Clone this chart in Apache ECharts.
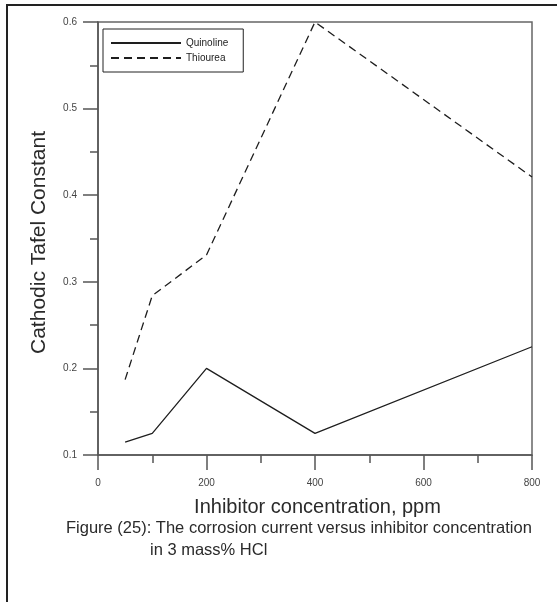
<!DOCTYPE html>
<html><head><meta charset="utf-8">
<script src="https://cdn.jsdelivr.net/npm/echarts@6/dist/echarts.min.js"></script>
<style>html,body{margin:0;padding:0;background:#fff}#c{width:557px;height:602px}</style>
</head><body><div id="c"></div>
<script>
// Data
const concentrations = [50, 100, 200, 400, 800];
const quinoline = [0.115, 0.125, 0.2, 0.125, 0.225];
const thiourea = [0.187, 0.284, 0.331, 0.6, 0.421];
const seriesNames = ['Quinoline', 'Thiourea'];
const xTickValues = [0, 200, 400, 600, 800];
const yTickValues = [0.1, 0.2, 0.3, 0.4, 0.5, 0.6];
const xTitle = 'Inhibitor concentration, ppm';
const yTitle = 'Cathodic Tafel Constant';
const captionLines = ['Figure (25): The corrosion current versus inhibitor concentration', 'in 3 mass% HCl'];

const FONT = '"Liberation Sans", Arial, sans-serif';
const AXIS = '#555';
const INK = '#1e1e1e';

const chart = echarts.init(document.getElementById('c'), null, {renderer: 'canvas'});

const axisCommon = {
  type: 'value',
  axisLine: {show: true, lineStyle: {color: AXIS, width: 1.5}},
  axisTick: {show: true, length: 15, lineStyle: {color: AXIS, width: 1.5}},
  minorTick: {show: true, splitNumber: 2, length: 8, lineStyle: {color: AXIS, width: 1.5}},
  splitLine: {show: false},
  minorSplitLine: {show: false},
  axisLabel: {fontFamily: FONT, fontSize: 10, color: '#444'},
  nameLocation: 'middle'
};

chart.setOption({
  animation: false,
  backgroundColor: '#fff',
  grid: {left: 98, top: 22, width: 434, height: 433, show: true, borderColor: '#666', borderWidth: 1.5, backgroundColor: 'transparent'},
  legend: {
    orient: 'vertical', left: 103, top: 29,
    itemWidth: 70, itemHeight: 10, itemGap: 5,
    padding: [9, 15, 9, 7],
    borderColor: '#222', borderWidth: 1,
    itemStyle: {opacity: 0, color: 'rgba(0,0,0,0)', borderColor: 'rgba(0,0,0,0)', borderWidth: 0},
    textStyle: {fontFamily: FONT, fontSize: 10, color: '#222'},
    data: seriesNames
  },
  xAxis: Object.assign({}, axisCommon, {
    min: xTickValues[0], max: xTickValues[xTickValues.length - 1], interval: xTickValues[1] - xTickValues[0],
    name: xTitle, nameGap: 42,
    nameTextStyle: {fontFamily: FONT, fontSize: 20, color: '#2a2a2a', padding: [0, 0, 0, 5]},
    axisLabel: Object.assign({}, axisCommon.axisLabel, {margin: 23})
  }),
  yAxis: Object.assign({}, axisCommon, {
    min: yTickValues[0], max: yTickValues[yTickValues.length - 1], interval: 0.1,
    name: yTitle, nameGap: 48,
    nameTextStyle: {fontFamily: FONT, fontSize: 21, color: '#2a2a2a', padding: [0, 8, 0, 0]},
    axisLabel: Object.assign({}, axisCommon.axisLabel, {margin: 21, formatter: v => v.toFixed(1)})
  }),
  series: [
    {name: seriesNames[0], type: 'line', symbol: 'none', data: concentrations.map((c, i) => [c, quinoline[i]]),
     lineStyle: {color: INK, width: 1.3, type: 'solid'}, itemStyle: {color: INK}},
    {name: seriesNames[1], type: 'line', symbol: 'none', data: concentrations.map((c, i) => [c, thiourea[i]]),
     lineStyle: {color: INK, width: 1.3, type: [8, 5]}, itemStyle: {color: INK}}
  ],
  graphic: [
    {type: 'rect', shape: {x: 7, y: 5, width: 800, height: 800}, style: {fill: 'none', stroke: '#222', lineWidth: 2}, silent: true},
    {type: 'text', x: 66, y: 520, style: {text: captionLines[0], font: '16.5px ' + FONT, fill: '#2a2a2a', verticalAlign: 'top'}},
    {type: 'text', x: 150, y: 542, style: {text: captionLines[1], font: '16.5px ' + FONT, fill: '#2a2a2a', verticalAlign: 'top'}}
  ]
});
</script></body></html>
